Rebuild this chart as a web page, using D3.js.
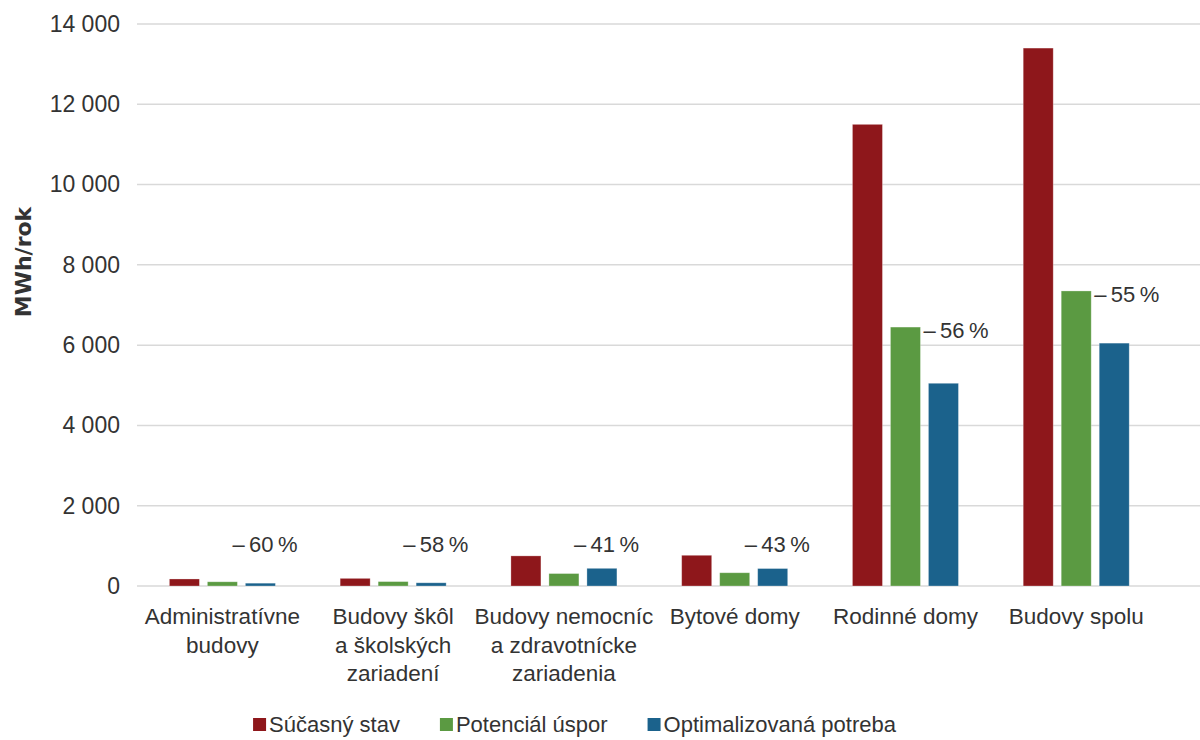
<!DOCTYPE html>
<html>
<head>
<meta charset="utf-8">
<script src="https://cdn.jsdelivr.net/npm/d3@7"></script>
<style>
  html, body { margin: 0; padding: 0; background: #fff; }
  svg text { font-family: "Liberation Sans", Arial, sans-serif; fill: #333; }
</style>
</head>
<body>
<svg id="chart" width="1200" height="740"></svg>
<script>
// Building categories (label lines)
const categories = [
  ["Administratívne", "budovy"],
  ["Budovy škôl", "a školských", "zariadení"],
  ["Budovy nemocníc", "a zdravotnícke", "zariadenia"],
  ["Bytové domy"],
  ["Rodinné domy"],
  ["Budovy spolu"]
];
const seriesNames = ["Súčasný stav", "Potenciál úspor", "Optimalizovaná potreba"];
const seriesColors = ["#8e171b", "#5b9a42", "#1b628c"];

// Energy demand, MWh/rok
const currentState = [175, 190, 750, 765, 11500, 13400];
const savingsPotential = [105, 110, 310, 330, 6450, 7350];
const optimizedDemand = [70, 80, 440, 435, 5050, 6050];
const savingsLabels = ["–\u200960\u2009%", "–\u200958\u2009%", "–\u200941\u2009%", "–\u200943\u2009%", "–\u200956\u2009%", "–\u200955\u2009%"];

const yTicks = [0, 2000, 4000, 6000, 8000, 10000, 12000, 14000];

const svg = d3.select("#chart");
const plot = { left: 137, right: 1161.6, top: 24, bottom: 586, gridRight: 1200 };

const keys = categories.map((c, i) => i);
const x0 = d3.scaleBand().domain(keys).range([plot.left, plot.right]).padding(0);
const x1 = d3.scaleBand().domain([0, 1, 2]).range([0, 106]).paddingInner(8 / 38).paddingOuter(0);
const groupOffset = (x0.bandwidth() - 106) / 2;
const y = d3.scaleLinear().domain([0, 14000]).range([plot.bottom, plot.top]);

// Gridlines
svg.append("g")
  .selectAll("line")
  .data(yTicks)
  .join("line")
  .attr("x1", plot.left).attr("x2", plot.gridRight)
  .attr("y1", d => y(d)).attr("y2", d => y(d))
  .attr("stroke", "#d9d9d9").attr("stroke-width", 1.5);

// Y axis labels
const fmt = v => d3.format(",")(v).replace(/,/g, " ");
const yAxis = d3.axisLeft(y).tickValues(yTicks).tickFormat(fmt).tickSize(0).tickPadding(0);
const yg = svg.append("g").attr("transform", "translate(120,0)").call(yAxis);
yg.select(".domain").remove();
yg.selectAll("text")
  .style("font-family", "Liberation Sans, Arial, sans-serif")
  .style("font-size", "23px").attr("fill", "#333");

// Y axis title
svg.append("text")
  .attr("transform", `translate(31,${(plot.top + plot.bottom) / 2 - 43}) rotate(-90)`)
  .attr("text-anchor", "middle")
  .style("font-family", "DejaVu Sans, sans-serif")
  .style("font-weight", "bold").style("font-size", "22px").attr("fill", "#111")
  .text("MWh/rok");

// Bars
const rows = keys.map(i => ({
  i,
  values: [currentState[i], savingsPotential[i], optimizedDemand[i]],
  label: savingsLabels[i]
}));

const groups = svg.append("g").selectAll("g")
  .data(rows).join("g")
  .attr("transform", d => `translate(${x0(d.i) + groupOffset},0)`);

groups.selectAll("rect")
  .data(d => d.values.map((v, s) => ({ v, s })))
  .join("rect")
  .attr("x", d => x1(d.s))
  .attr("width", x1.bandwidth())
  .attr("y", d => y(d.v))
  .attr("height", d => y(0) - y(d.v))
  .attr("fill", d => seriesColors[d.s])
  .attr("stroke", "#fff").attr("stroke-opacity", 0.35).attr("stroke-width", 0.8);

// Savings labels beside the "potential" bar, lifted over low bars
const liftValue = 1050;
groups.append("text")
  .each(function (d) {
    const g = savingsPotential[d.i];
    const lifted = g < liftValue;
    const xs = lifted ? x1(1) + x1.bandwidth() / 2 + 10 : x1(1) + x1.bandwidth() + 3;
    const yc = lifted ? y(liftValue) : y(g) + 3;
    d3.select(this).attr("x", xs).attr("y", yc).attr("dy", "0.35em");
  })
  .style("font-size", "22px")
  .text(d => d.label);

// Category labels
const catG = svg.append("g");
categories.forEach((lines, i) => {
  const t = catG.append("text")
    .attr("x", x0(i) + x0.bandwidth() / 2)
    .attr("y", 624)
    .attr("text-anchor", "middle")
    .style("font-size", "22.5px");
  lines.forEach((ln, k) => {
    t.append("tspan")
      .attr("x", x0(i) + x0.bandwidth() / 2)
      .attr("dy", k === 0 ? 0 : 28.5)
      .text(ln);
  });
});

// Legend
const legendGap = 40;
const legend = svg.append("g");
let cursor = 0;
seriesNames.forEach((name, s) => {
  const g = legend.append("g");
  g.append("rect").attr("x", 0).attr("y", -6).attr("width", 13).attr("height", 13)
    .attr("fill", seriesColors[s]);
  const tx = g.append("text").attr("x", 16).attr("y", 0).attr("dy", "0.36em")
    .style("font-size", "22px").text(name);
  const w = 16 + tx.node().getComputedTextLength();
  g.attr("transform", `translate(${cursor},0)`);
  cursor += w + legendGap;
});
const legendWidth = cursor - legendGap;
legend.attr("transform", `translate(${574.5 - legendWidth / 2},724)`);
</script>
</body>
</html>
